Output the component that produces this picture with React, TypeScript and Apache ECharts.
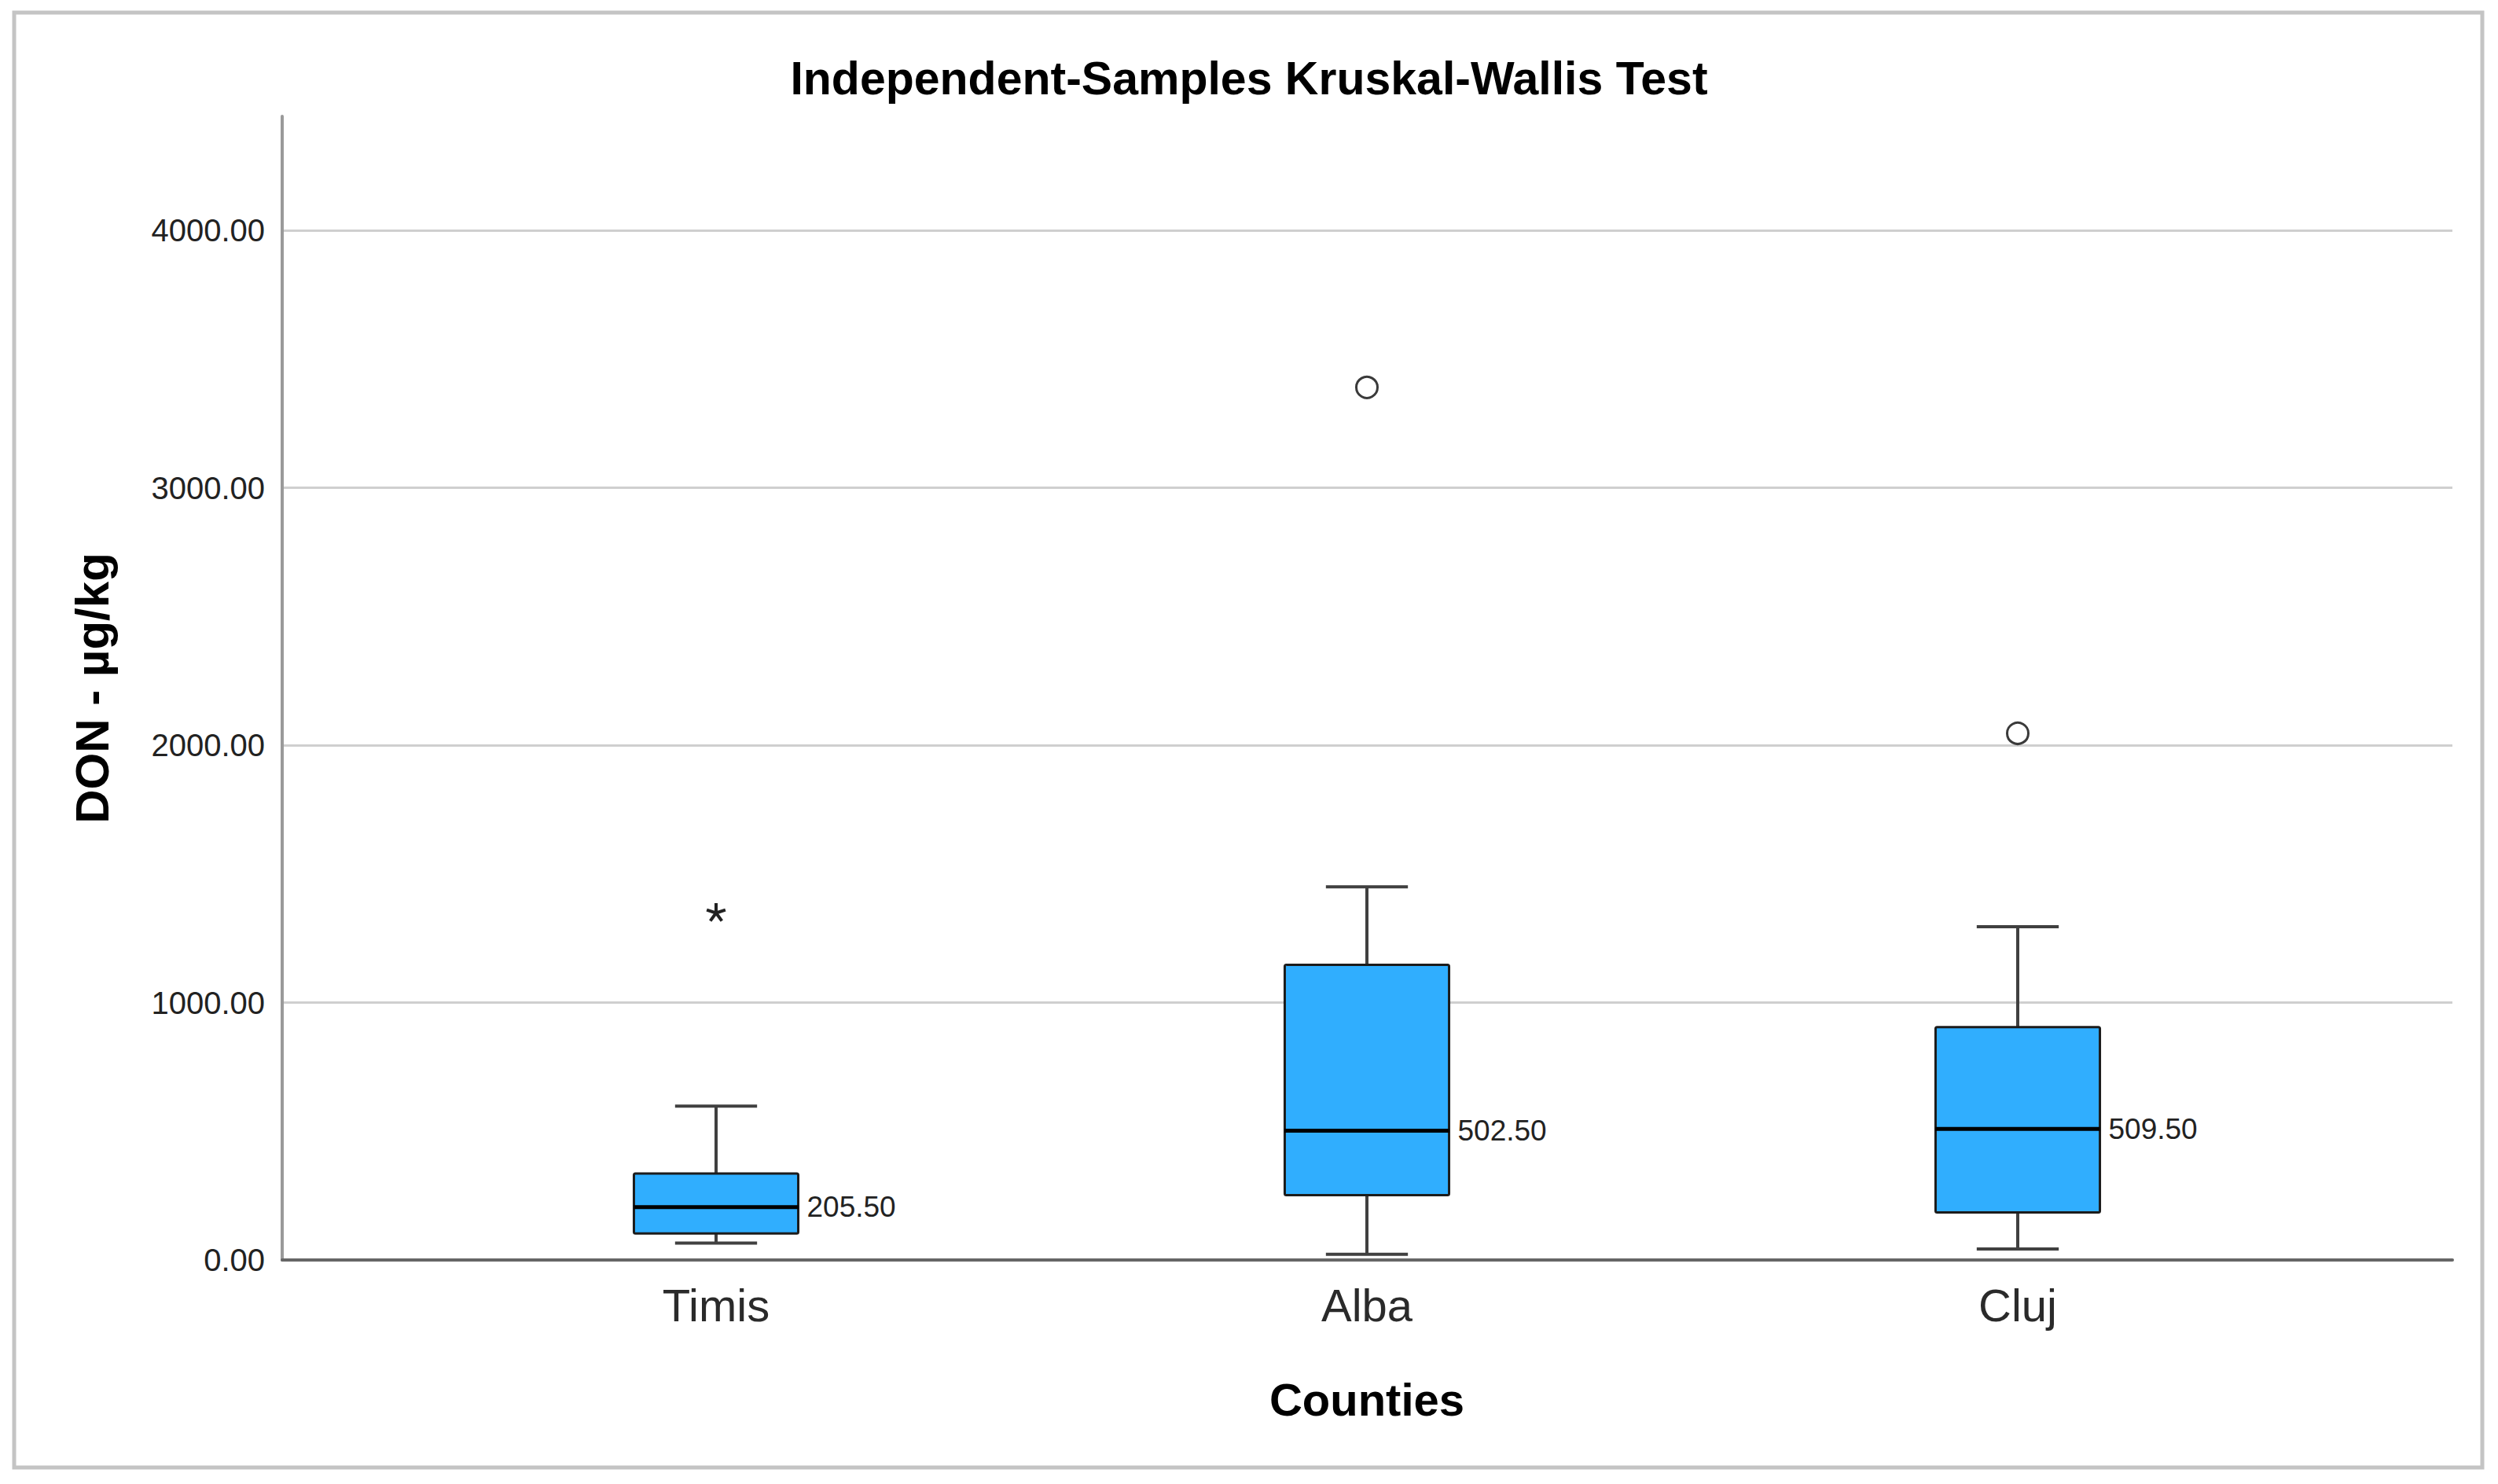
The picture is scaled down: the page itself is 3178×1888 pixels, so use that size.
import React, { useEffect, useRef } from "react";
import * as echarts from "echarts";

// ---------- data ----------
const categories = ["Timis", "Alba", "Cluj"];
const whiskerLow = [66, 22, 43];
const quartile1 = [103, 252, 185];
const medians = [205.5, 502.5, 509.5];
const quartile3 = [336, 1147, 905];
const whiskerHigh = [598, 1450, 1295];
// outliers: [categoryIndex, value]
const outliers = [
  [1, 3390],
  [2, 2046],
];
const extremeOutliers = [[0, 1350]];

const Y_MIN = 0;
const Y_MAX = 4443;
const Y_INTERVAL = 1000;

const TITLE = "Independent-Samples Kruskal-Wallis Test";
const X_NAME = "Counties";
const Y_NAME = "DON - µg/kg";

const FONT = '"Liberation Sans", Arial, Helvetica, sans-serif';

// asterisk symbol shape (5 arms)
function asteriskPath(): string {
  const R = 50;
  const w = 8;
  const c = 50;
  let d = "";
  for (let k = 0; k < 5; k++) {
    const a = ((-90 + 72 * k) * Math.PI) / 180;
    const dx = Math.cos(a);
    const dy = Math.sin(a);
    const px = -dy;
    const py = dx;
    const p = [
      [c + px * w, c + py * w],
      [c + dx * R + px * w, c + dy * R + py * w],
      [c + dx * R - px * w, c + dy * R - py * w],
      [c - px * w, c - py * w],
    ];
    d += `M${p[0][0].toFixed(2)} ${p[0][1].toFixed(2)}L${p[1][0].toFixed(2)} ${p[1][1].toFixed(2)}L${p[2][0].toFixed(2)} ${p[2][1].toFixed(2)}L${p[3][0].toFixed(2)} ${p[3][1].toFixed(2)}Z`;
  }
  return "path://" + d;
}

export default function App() {
  const ref = useRef<HTMLDivElement>(null);

  useEffect(() => {
    if (!ref.current) return;
    const chart = echarts.init(ref.current, undefined, { renderer: "svg" });

    const boxData = categories.map((_, i) => [
      i,
      whiskerLow[i],
      quartile1[i],
      medians[i],
      quartile3[i],
      whiskerHigh[i],
    ]);

    const renderBox = (params: any, api: any) => {
      const i = api.value(0);
      const lo = api.coord([i, api.value(1)]);
      const b = api.coord([i, api.value(2)]);
      const m = api.coord([i, api.value(3)]);
      const t = api.coord([i, api.value(4)]);
      const hi = api.coord([i, api.value(5)]);
      const band = api.size([1, 0])[0];
      const bw = band * 0.2525;
      const cw = band * 0.126;
      const x = m[0];
      const wStyle = { stroke: "#404040", lineWidth: 4 };
      return {
        type: "group",
        children: [
          { type: "line", shape: { x1: x, y1: hi[1], x2: x, y2: t[1] }, style: wStyle },
          { type: "line", shape: { x1: x, y1: b[1], x2: x, y2: lo[1] }, style: wStyle },
          { type: "line", shape: { x1: x - cw / 2, y1: hi[1], x2: x + cw / 2, y2: hi[1] }, style: wStyle },
          { type: "line", shape: { x1: x - cw / 2, y1: lo[1], x2: x + cw / 2, y2: lo[1] }, style: wStyle },
          {
            type: "rect",
            shape: { x: x - bw / 2, y: t[1], width: bw, height: b[1] - t[1], r: 2 },
            style: { fill: "#30aefe", stroke: "#1c1c1c", lineWidth: 3 },
          },
          {
            type: "line",
            shape: { x1: x - bw / 2, y1: m[1], x2: x + bw / 2, y2: m[1] },
            style: { stroke: "#000000", lineWidth: 5 },
          },
          {
            type: "text",
            style: {
              text: Number(api.value(3)).toFixed(2),
              x: x + bw / 2 + 11,
              y: m[1],
              align: "left",
              verticalAlign: "middle",
              fontSize: 37,
              fontFamily: FONT,
              fill: "#222222",
            },
          },
        ],
      };
    };

    const option: any = {
      animation: false,
      backgroundColor: "#ffffff",
      textStyle: { fontFamily: FONT },
      title: {
        text: TITLE,
        left: "center",
        top: 70,
        padding: 0,
        textStyle: { fontSize: 59, fontWeight: "bold", color: "#000000", fontFamily: FONT },
      },
      graphic: [
        {
          type: "rect",
          silent: true,
          z: -10,
          shape: { x: 18, y: 16, width: 3140, height: 1851 },
          style: { fill: "none", stroke: "#c4c4c4", lineWidth: 5 },
        },
      ],
      grid: [
        { left: 359, right: 58, top: 148, bottom: 285 },
        { left: 497, right: 197, top: 148, bottom: 285 },
      ],
      xAxis: [
        {
          gridIndex: 0,
          type: "value",
          min: 0,
          max: 1,
          axisLine: { show: true, lineStyle: { color: "#666666", width: 4 } },
          axisTick: { show: false },
          axisLabel: { show: false },
          splitLine: { show: false },
        },
        {
          gridIndex: 1,
          type: "category",
          data: categories,
          axisLine: { show: false },
          axisTick: { show: false },
          axisLabel: { fontSize: 58, color: "#2a2a2a", margin: 28, fontFamily: FONT },
          name: X_NAME,
          nameLocation: "middle",
          nameGap: 148,
          nameTextStyle: { fontSize: 58, fontWeight: "bold", color: "#000000", fontFamily: FONT },
        },
      ],
      yAxis: [
        {
          gridIndex: 0,
          type: "value",
          min: Y_MIN,
          max: Y_MAX,
          interval: Y_INTERVAL,
          axisLine: { show: true, lineStyle: { color: "#9a9a9a", width: 4 } },
          axisTick: { show: false },
          axisLabel: {
            fontSize: 40,
            color: "#222222",
            margin: 22,
            fontFamily: FONT,
            padding: [14, 0, 0, 0],
            formatter: (v: number) => (v % Y_INTERVAL === 0 ? v.toFixed(2) : ""),
          },
          splitLine: {
            show: true,
            showMinLine: false,
            showMaxLine: false,
            lineStyle: { color: "#cfcfcf", width: 3 },
          },
          name: Y_NAME,
          nameLocation: "middle",
          nameGap: 212,
          nameTextStyle: { fontSize: 60, fontWeight: "bold", color: "#000000", fontFamily: FONT },
        },
        { gridIndex: 1, type: "value", min: Y_MIN, max: Y_MAX, show: false },
      ],
      series: [
        {
          type: "custom",
          xAxisIndex: 1,
          yAxisIndex: 1,
          data: boxData,
          encode: { x: 0, y: [1, 2, 3, 4, 5] },
          renderItem: renderBox,
          z: 3,
        },
        {
          type: "scatter",
          xAxisIndex: 1,
          yAxisIndex: 1,
          data: outliers,
          symbol: "circle",
          symbolSize: 27,
          itemStyle: { color: "#ffffff", borderColor: "#3a3a3a", borderWidth: 3, opacity: 1 },
          z: 5,
        },
        {
          type: "scatter",
          xAxisIndex: 1,
          yAxisIndex: 1,
          data: extremeOutliers,
          symbol: asteriskPath(),
          symbolKeepAspect: true,
          symbolSize: 25,
          itemStyle: { color: "#222222", opacity: 1 },
          z: 5,
        },
      ],
    };

    chart.setOption(option);
    return () => {
      chart.dispose();
    };
  }, []);

  return (
    <div
      ref={ref}
      style={{ position: "fixed", left: 0, top: 0, width: "3178px", height: "1888px", background: "#fff" }}
    />
  );
}
